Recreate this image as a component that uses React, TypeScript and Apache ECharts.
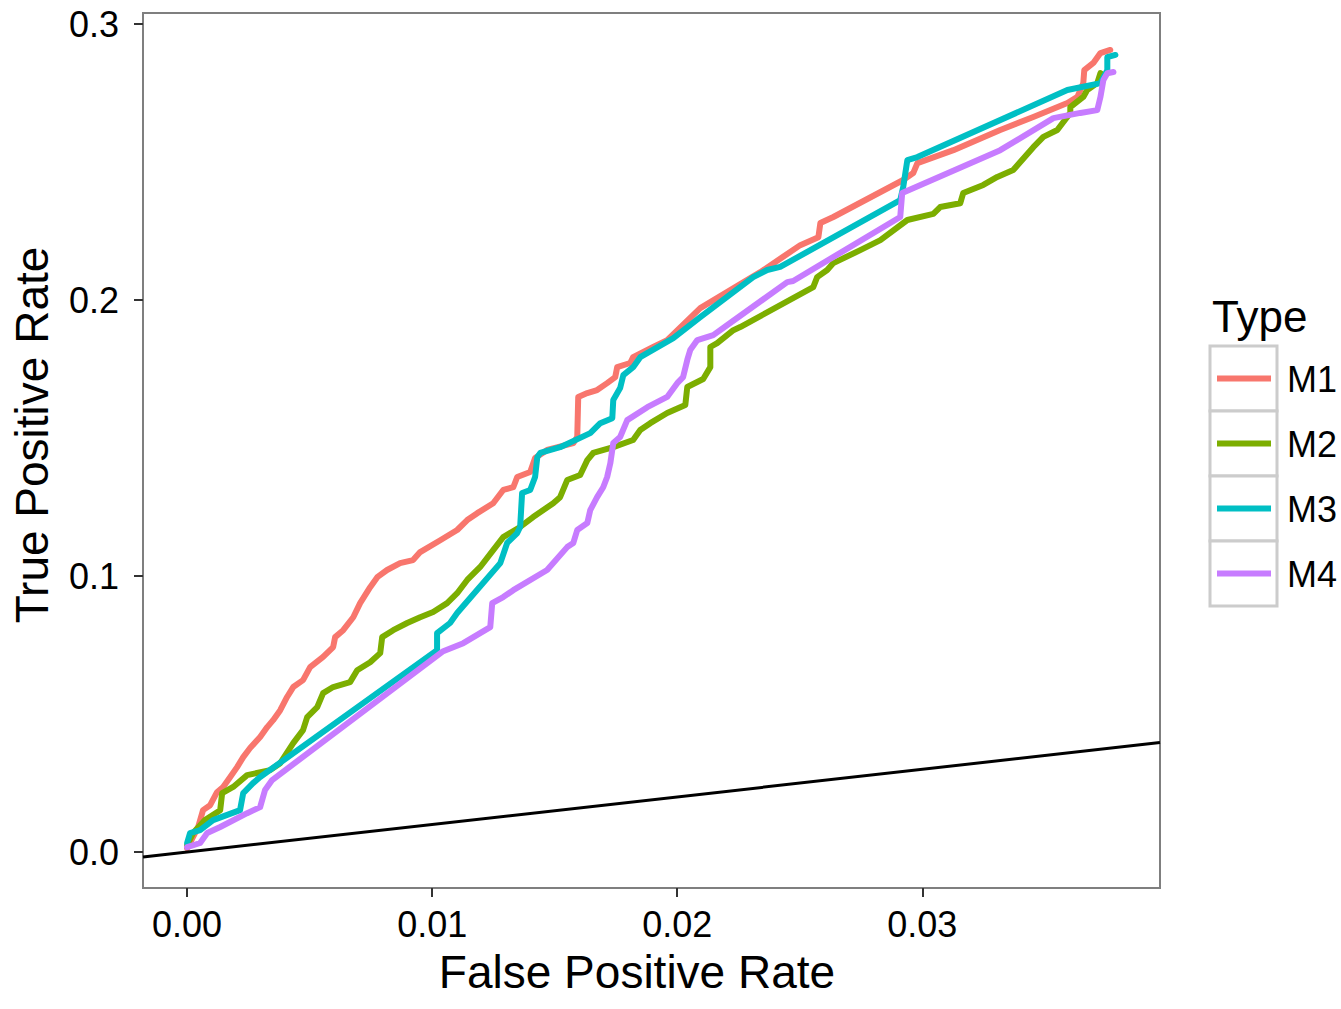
import React, { useEffect, useRef } from "react";
import * as echarts from "echarts";

// ROC curve points [False Positive Rate, True Positive Rate]
const m1: number[][] = [
  [0, 0.0014], [0.00045, 0.0091], [0.00065, 0.0152], [0.00094, 0.017], [0.00122, 0.0217],
  [0.00147, 0.0236], [0.00176, 0.0272], [0.00204, 0.0308], [0.00229, 0.0344], [0.00257, 0.0377],
  [0.00298, 0.0417], [0.00327, 0.0453], [0.00351, 0.0478], [0.0038, 0.0514], [0.00408, 0.0562],
  [0.00433, 0.0598], [0.00473, 0.0623], [0.00502, 0.067], [0.00555, 0.0707], [0.00596, 0.0743],
  [0.00604, 0.0779], [0.00637, 0.0804], [0.00678, 0.0851], [0.00706, 0.0902], [0.00747, 0.096],
  [0.00776, 0.0996], [0.00816, 0.1022], [0.00869, 0.1047], [0.00922, 0.1058], [0.00951, 0.1087],
  [0.01033, 0.113], [0.01102, 0.1167], [0.01143, 0.1203], [0.01184, 0.1228], [0.01249, 0.1264],
  [0.0129, 0.1312], [0.01331, 0.1322], [0.01347, 0.1359], [0.014, 0.1377], [0.0142, 0.1428],
  [0.01469, 0.1457], [0.01576, 0.1482], [0.01592, 0.1504], [0.01596, 0.1649], [0.01633, 0.1663],
  [0.01673, 0.1674], [0.01714, 0.1699], [0.01747, 0.1721], [0.01755, 0.1757], [0.01808, 0.1772],
  [0.0182, 0.1793], [0.01902, 0.183], [0.01959, 0.1855], [0.02094, 0.1971], [0.02339, 0.2101],
  [0.02502, 0.2199], [0.02576, 0.2228], [0.02584, 0.2279], [0.02637, 0.2301], [0.02922, 0.2435],
  [0.02963, 0.246], [0.0298, 0.2496], [0.03127, 0.2543], [0.03318, 0.2616], [0.03453, 0.2663],
  [0.03592, 0.2714], [0.03633, 0.2736], [0.03657, 0.2786], [0.03661, 0.2833], [0.03698, 0.2859],
  [0.03727, 0.2895], [0.03767, 0.2906],
];

const m2: number[][] = [
  [0, 0.0025], [0.00024, 0.0069], [0.00073, 0.0116], [0.00135, 0.0152], [0.00143, 0.0214],
  [0.00188, 0.0236], [0.00245, 0.0279], [0.00339, 0.0297], [0.0038, 0.0322], [0.00433, 0.0395],
  [0.00473, 0.0442], [0.0049, 0.0489], [0.00531, 0.0525], [0.00555, 0.0576], [0.00596, 0.0598],
  [0.00665, 0.0616], [0.00694, 0.0659], [0.00747, 0.0688], [0.00788, 0.0721], [0.00796, 0.0779],
  [0.00841, 0.0804], [0.00898, 0.083], [0.00951, 0.0851], [0.01004, 0.087], [0.01061, 0.0902],
  [0.01102, 0.0938], [0.01143, 0.0986], [0.01196, 0.1033], [0.01249, 0.1094], [0.0129, 0.1141],
  [0.01359, 0.1178], [0.01412, 0.1214], [0.01494, 0.1264], [0.01522, 0.1286], [0.01551, 0.1348],
  [0.01604, 0.1366], [0.01633, 0.142], [0.01657, 0.1446], [0.01739, 0.1467], [0.0182, 0.1493],
  [0.01849, 0.1529], [0.0189, 0.1554], [0.01959, 0.1591], [0.02033, 0.162], [0.02041, 0.1685],
  [0.02106, 0.1714], [0.02135, 0.1757], [0.02135, 0.183], [0.02163, 0.1844], [0.02229, 0.1891],
  [0.02257, 0.1902], [0.02555, 0.2047], [0.02571, 0.2083], [0.02612, 0.2109], [0.02637, 0.2134],
  [0.02747, 0.2181], [0.02829, 0.2217], [0.02939, 0.229], [0.03045, 0.2312], [0.03073, 0.2337],
  [0.03155, 0.2351], [0.03167, 0.2388], [0.03249, 0.2417], [0.03306, 0.2446], [0.03371, 0.2471],
  [0.03453, 0.2554], [0.03494, 0.2591], [0.03551, 0.2616], [0.03604, 0.2678], [0.03604, 0.2699],
  [0.03657, 0.2736], [0.03673, 0.2761], [0.03714, 0.2786], [0.03727, 0.2822],
];

const m3: number[][] = [
  [0, 0.0033], [0.00012, 0.0069], [0.00053, 0.008], [0.00106, 0.0116], [0.00216, 0.0152],
  [0.00229, 0.0214], [0.00269, 0.025], [0.00298, 0.0272], [0.0102, 0.0732], [0.0102, 0.0793],
  [0.01073, 0.083], [0.01102, 0.0866], [0.01278, 0.1047], [0.01306, 0.112], [0.01347, 0.1156],
  [0.01359, 0.1178], [0.01367, 0.1301], [0.014, 0.1312], [0.0142, 0.1359], [0.01429, 0.1431],
  [0.01441, 0.1446], [0.01522, 0.1467], [0.01645, 0.1518], [0.01686, 0.1554], [0.01735, 0.1572],
  [0.01739, 0.1638], [0.01767, 0.1681], [0.0178, 0.1728], [0.0182, 0.1757], [0.01849, 0.1793],
  [0.01984, 0.1862], [0.02094, 0.1938], [0.0231, 0.2083], [0.02367, 0.2109], [0.0242, 0.212],
  [0.0291, 0.2362], [0.02922, 0.2409], [0.02939, 0.2507], [0.0298, 0.2518], [0.03592, 0.2761],
  [0.03727, 0.2786], [0.03755, 0.2833], [0.03755, 0.288], [0.03788, 0.2888],
];

const m4: number[][] = [
  [0, 0.0018], [0.00053, 0.0033], [0.00082, 0.0069], [0.00135, 0.0091], [0.00245, 0.0141],
  [0.00298, 0.0163], [0.00318, 0.0225], [0.00347, 0.0261], [0.01045, 0.0728], [0.01127, 0.0757],
  [0.01237, 0.0815], [0.01245, 0.0902], [0.0129, 0.0924], [0.01331, 0.0949], [0.01469, 0.1022],
  [0.01551, 0.1105], [0.01576, 0.112], [0.01592, 0.1167], [0.01633, 0.1192], [0.01645, 0.1239],
  [0.01673, 0.1286], [0.01698, 0.1322], [0.01714, 0.1359], [0.01727, 0.1409], [0.01739, 0.1482],
  [0.01767, 0.1504], [0.01796, 0.1565], [0.01878, 0.1612], [0.01959, 0.1649], [0.02, 0.1699],
  [0.02024, 0.1721], [0.02041, 0.1783], [0.02053, 0.1819], [0.02082, 0.1855], [0.02147, 0.1873],
  [0.02216, 0.1917], [0.02449, 0.2065], [0.02473, 0.2069], [0.0291, 0.2301], [0.02918, 0.2388],
  [0.03318, 0.2543], [0.03535, 0.2659], [0.03645, 0.2678], [0.03714, 0.2688], [0.03727, 0.2736],
  [0.03739, 0.2797], [0.03755, 0.2822], [0.0378, 0.2826],
];

const seriesNames = ["M1", "M2", "M3", "M4"];
const seriesColors = ["#F8766D", "#7CAE00", "#00BFC4", "#C77CFF"];
const seriesData = [m1, m2, m3, m4];

const xTicks = [0, 0.01, 0.02, 0.03];
const yTicks = [0, 0.1, 0.2, 0.3];
const xRange = [-0.0018, 0.0397];
const yRange = [-0.013, 0.304];
// reference line y = x across the x range
const diagonal: number[][] = [
  [xRange[0], xRange[0]],
  [xRange[1], xRange[1]],
];

const FONT = "'Liberation Sans', Arial, Helvetica, sans-serif";

export default function App() {
  const ref = useRef<HTMLDivElement>(null);

  useEffect(() => {
    if (!ref.current) return;
    const chart = echarts.init(ref.current, null, { renderer: "svg" });

    const legendGraphics: any[] = [];
    legendGraphics.push({
      type: "text",
      x: 1212,
      y: 316,
      style: {
        text: "Type",
        font: `44px ${FONT}`,
        fill: "#000",
        align: "left",
        verticalAlign: "middle",
      },
    });
    seriesNames.forEach((name, i) => {
      const top = 346 + i * 65;
      legendGraphics.push({
        type: "rect",
        shape: { x: 1210, y: top, width: 67, height: 65 },
        style: { fill: "#ffffff", stroke: "#cccccc", lineWidth: 3 },
      });
      legendGraphics.push({
        type: "line",
        shape: { x1: 1217, y1: top + 32.5, x2: 1271, y2: top + 32.5 },
        style: { stroke: seriesColors[i], lineWidth: 6 },
      });
      legendGraphics.push({
        type: "text",
        x: 1287,
        y: top + 33,
        style: {
          text: name,
          font: `36px ${FONT}`,
          fill: "#000",
          align: "left",
          verticalAlign: "middle",
        },
      });
    });

    const option: any = {
      animation: false,
      backgroundColor: "#ffffff",
      grid: {
        left: 143,
        top: 13,
        width: 1017,
        height: 875,
        show: true,
        borderColor: "#7f7f7f",
        borderWidth: 2,
        backgroundColor: "#ffffff",
        containLabel: false,
      },
      xAxis: {
        type: "value",
        min: xRange[0],
        max: xRange[1],
        position: "bottom",
        axisLine: { show: false, onZero: false },
        splitLine: { show: false },
        axisTick: {
          show: true,
          inside: false,
          customValues: xTicks,
          length: 9,
          lineStyle: { color: "#333333", width: 2 },
        },
        axisLabel: {
          show: true,
          customValues: xTicks,
          formatter: (v: number) => v.toFixed(2),
          fontSize: 36,
          fontFamily: FONT,
          color: "#000",
          margin: 18,
        },
      },
      yAxis: {
        type: "value",
        min: yRange[0],
        max: yRange[1],
        position: "left",
        axisLine: { show: false, onZero: false },
        splitLine: { show: false },
        axisTick: {
          show: true,
          inside: false,
          customValues: yTicks,
          length: 9,
          lineStyle: { color: "#333333", width: 2 },
        },
        axisLabel: {
          show: true,
          customValues: yTicks,
          formatter: (v: number) => v.toFixed(1),
          fontSize: 36,
          fontFamily: FONT,
          color: "#000",
          margin: 24,
        },
      },
      series: [
        ...seriesNames.map((name, i) => ({
          name,
          type: "line",
          data: seriesData[i],
          showSymbol: false,
          symbol: "none",
          clip: true,
          lineStyle: { color: seriesColors[i], width: 6, join: "round", cap: "round" },
          z: 2 + i,
        })),
        {
          name: "diagonal",
          type: "line",
          data: diagonal,
          symbol: "none",
          showSymbol: false,
          clip: true,
          lineStyle: { color: "#000000", width: 3 },
          z: 10,
        },
      ],
      graphic: [
        {
          type: "text",
          x: 637,
          y: 972,
          style: {
            text: "False Positive Rate",
            font: `46px ${FONT}`,
            fill: "#000",
            align: "center",
            verticalAlign: "middle",
          },
        },
        {
          type: "text",
          x: 32,
          y: 435,
          rotation: Math.PI / 2,
          style: {
            text: "True Positive Rate",
            font: `46px ${FONT}`,
            fill: "#000",
            align: "center",
            verticalAlign: "middle",
          },
        },
        ...legendGraphics,
      ],
    };

    chart.setOption(option);
    return () => chart.dispose();
  }, []);

  return (
    <div
      ref={ref}
      style={{ position: "absolute", left: 0, top: 0, width: 1341, height: 1009, background: "#fff" }}
    />
  );
}
